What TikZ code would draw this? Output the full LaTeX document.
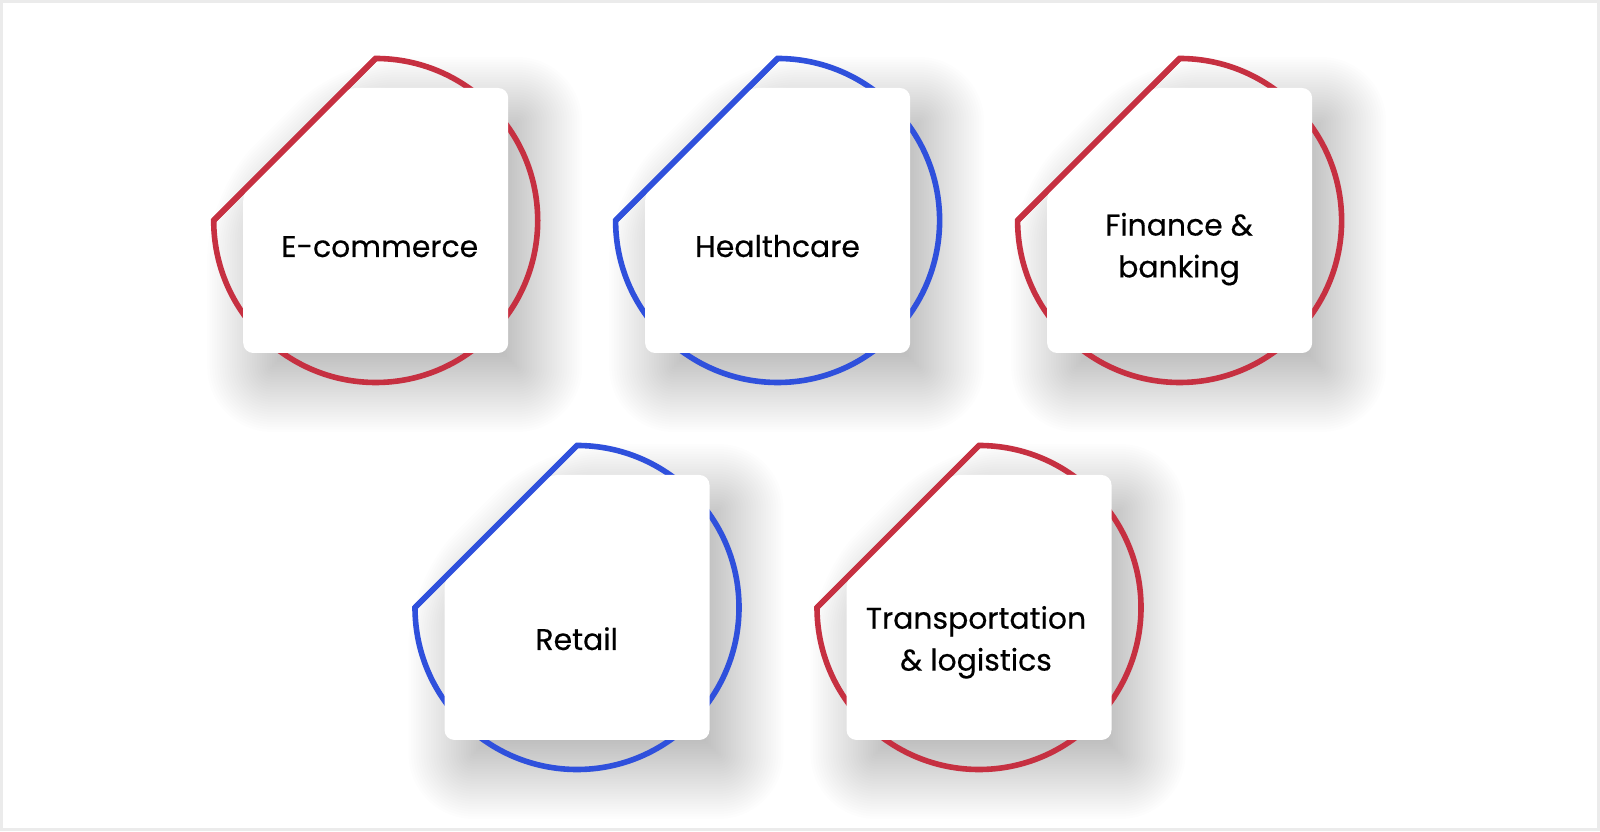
\documentclass[tikz,border=0pt]{standalone}
\usepackage{fontspec}
\setmainfont{Poppins}[FakeBold=0.4]
\definecolor{ared}{HTML}{C63041}
\definecolor{ablue}{HTML}{2F50DC}
\def\R{162}
\def\H{132.5}
\tikzset{
  ring/.style={line width=5.6bp, line join=miter},
  cardfill/.style={fill=white, rounded corners=10bp},
  shadowlayer/.style={fill=black, opacity=0.0075},
  label/.style={align=center, font=\fontsize{30}{42}\selectfont, text=black, inner sep=0pt}
}
% cut square: #1 cx, #2 cy, #3 growth, #4 options
\newcommand\cutsquare[4]{%
  \pgfmathsetmacro\hh{\H+#3}%
  \pgfmathsetmacro\ct{\H+#3-\R-1.41421*#3}%
  \pgfmathsetmacro\cl{\R+1.41421*#3-\H-#3}%
  \path[#4] ({#1+\ct},{#2+\hh}) -- ({#1+\hh},{#2+\hh}) -- ({#1+\hh},{#2-\hh}) -- ({#1-\hh},{#2-\hh}) -- ({#1-\hh},{#2+\cl}) -- cycle;
}
\newcommand\industry[7]{%
  \foreach \g in {-25,-22.5,...,55}{%
    \pgfmathsetmacro\rr{max(10+\g,0.5)}%
    \cutsquare{#2+19}{#3-24}{\g}{shadowlayer, rounded corners=\rr bp}
  }
  \draw[ring, draw=#4] ({#2-\R},#3) -- (#2,{#3+\R}) arc[start angle=90, end angle=-180, radius=\R] -- cycle;
  \cutsquare{#2}{#3}{0}{cardfill}
  \draw[ring, draw=#4] ({#2-\R},#3) -- (#2,{#3+\R});
  \node[label] (#1) at (#5,#6) {#7};
}
\begin{document}
\begin{tikzpicture}[x=1bp,y=1bp]
\fill[white] (0,0) rectangle (1600,831);
\useasboundingbox (0,0) rectangle (1600,831);
\draw[black!8, line width=2.5bp] (1.5,1.5) rectangle (1598.5,829.5);
\industry{ecom}{375.7}{610.5}{ared}{379.7}{582.4}{E-commerce\strut}
\industry{health}{777.6}{610.5}{ablue}{777.5}{582.4}{Healthcare\strut}
\industry{fin}{1179.6}{610.5}{ared}{1179}{582.9}{Finance \&\strut\\banking\strut}
\industry{retail}{577}{223.5}{ablue}{576.7}{189.4}{Retail\strut}
\industry{trans}{979}{223.5}{ared}{976}{189.7}{Transportation\strut\\\& logistics\strut}
\end{tikzpicture}
\end{document}
